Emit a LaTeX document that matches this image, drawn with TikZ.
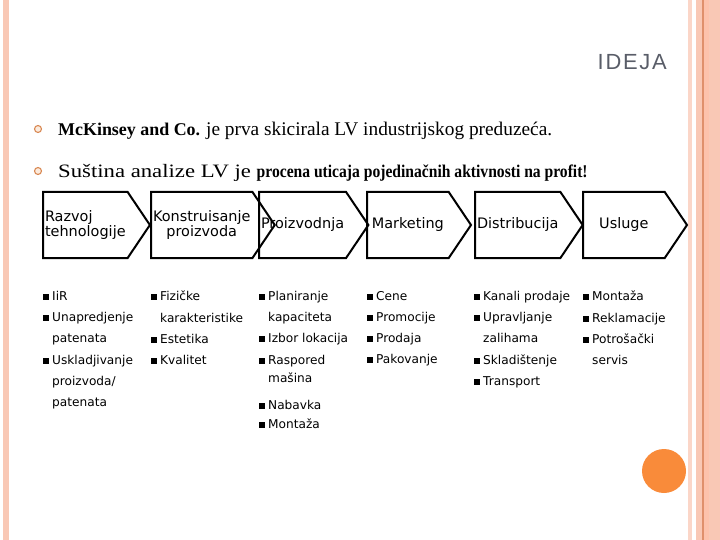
\documentclass[tikz,border=0pt]{standalone}
\usepackage{fontspec}
\setmainfont{Liberation Serif}
\newfontfamily\leadwide[FakeStretch=1.2]{Liberation Serif}
\newfontfamily\leadnarrow[FakeStretch=0.87]{Liberation Serif}
\newfontfamily\boxfont{DejaVu Sans}
\newfontfamily\titlefont[LetterSpace=8]{Liberation Sans}
\usetikzlibrary{shapes.symbols}
\definecolor{bandpink}{HTML}{F9C8B5}
\definecolor{bandlight}{HTML}{FBD6C8}
\definecolor{bandline}{HTML}{E0906C}
\definecolor{bandsalmon}{HTML}{FDC2AC}
\definecolor{titlegray}{HTML}{595D68}
\definecolor{ringorange}{HTML}{D98A55}
\definecolor{ringfill}{HTML}{FCEBDD}
\definecolor{dotorange}{HTML}{F98B3A}
\tikzset{
	chevron/.style={
			signal, signal to=east, signal pointer angle=112,
			draw, line width=2bp, anchor=west,
			minimum height=66bp, minimum width=104bp, inner sep=2bp,
			font=\boxfont\fontsize{14.5}{15}\selectfont
		},
	column/.style={
			anchor=north west, align=left, inner sep=0pt,
			font=\boxfont\fontsize{12.2}{21.3}\selectfont
		},
	ring/.style={circle, draw=ringorange, fill=ringfill, line width=1.1pt,
			minimum size=7bp, inner sep=0pt},
	lead/.style={anchor=base west, inner sep=0pt}
}
\newcommand{\sq}{\makebox[9bp][l]{\rule[0.5bp]{6bp}{6bp}}}
\newcommand{\nosq}{\makebox[9bp]{}}

\begin{document}
\begin{tikzpicture}[x=1bp,y=-1bp]
            \useasboundingbox (0,0) rectangle (720,540);
            % side bands
            \fill[bandpink] (3,0) rectangle (9,540);
            \fill[bandlight] (688,0) rectangle (692,540);
            \fill[bandpink] (696,0) rectangle (702,540);
            \fill[bandline] (702,0) rectangle (703.5,540);
            \fill[bandsalmon] (703.5,0) rectangle (709,540);
            \fill[bandpink] (709,0) rectangle (720,540);
            \node[anchor=base east, inner sep=0pt, text=titlegray,
                font=\titlefont\fontsize{22}{24}\selectfont] (title) at (667,70) {IDEJA};
            \node[ring] (r1) at (38,129) {};
            \node[ring] (r2) at (38,171) {};
            \node[lead] (l1) at (58,136) {\fontsize{18}{20}\selectfont\textbf{McKinsey and Co.}
                \fontsize{19.4}{20}\selectfont je prva skicirala LV industrijskog preduzeća.};
            \node[lead] (l2) at (58,178) {\leadwide\fontsize{19}{20}\selectfont Suština analize LV je
                \leadnarrow\fontsize{18}{20}\selectfont\textbf{procena uticaja pojedinačnih aktivnosti na profit!}};
            \node[chevron, align=left] (b1) at (42,225) {Razvoj\\tehnologije};
            \node[chevron, align=center] (b2) at (150,225) {Konstruisanje\\proizvoda};
            \node[chevron] (b3) at (258,225) {Proizvodnja};
            \node[chevron] (b4) at (366,225) {Marketing};
            \node[chevron] (b5) at (474,225) {Distribucija};
            \node[chevron] (b6) at (582,225) {Usluge};
            \node[column] (c1) at (43,291) {\sq IiR\\ \sq Unapredjenje\\ \nosq patenata\\
                \sq Uskladjivanje\\ \nosq proizvoda/\\ \nosq patenata};
            \node[column] (c2) at (151,291) {\sq Fizičke\\ \nosq karakteristike\\ \sq Estetika\\ \sq Kvalitet};
            \node[column] (c3) at (259,291) {\sq Planiranje\\ \nosq kapaciteta\\ \sq Izbor lokacija\\
                \sq Raspored\\[-3.3bp] \nosq mašina\\[6.7bp] \sq Nabavka\\[-2.3bp] \sq Montaža};
            \node[column] (c4) at (367,291) {\sq Cene\\ \sq Promocije\\ \sq Prodaja\\ \sq Pakovanje};
            \node[column] (c5) at (474,291) {\sq Kanali prodaje\\ \sq Upravljanje\\ \nosq zalihama\\
                \sq Skladištenje\\ \sq Transport};
            \node[column] (c6) at (583,291) {\sq Montaža\\ \sq Reklamacije\\ \sq Potrošački\\ \nosq servis};
            \node[circle, fill=dotorange, minimum size=44bp, inner sep=0pt] (dot) at (664,471) {};
        \end{tikzpicture}
\end{document}
